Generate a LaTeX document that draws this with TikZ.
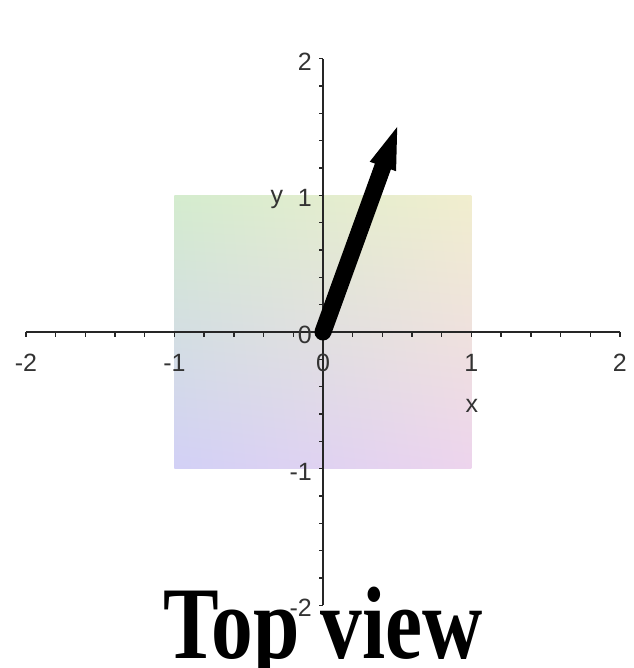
\documentclass[tikz,border=0pt]{standalone}
\usepackage{fontspec}
\setmainfont{Liberation Serif}
\setsansfont{Liberation Sans}
\usetikzlibrary{arrows.meta, shadings}

% corner colours of the shaded square
\definecolor{sqtl}{RGB}{212,236,206}
\definecolor{sqtr}{RGB}{241,238,206}
\definecolor{sqbl}{RGB}{210,208,246}
\definecolor{sqbr}{RGB}{237,212,237}

\begin{document}
\begin{tikzpicture}[
    x=148.5pt, y=136.7pt,
    axis/.style={line width=1.6pt, draw=black!85},
    tick/.style={line width=1.4pt, draw=black!85},
    num/.style={font=\sffamily\fontsize{25}{25}\selectfont, text=black!80, inner sep=0pt},
    vec/.style={line width=17pt, line cap=round, -{Triangle[length=42pt, width=28pt, line width=0pt]}},
    title/.style={font=\bfseries\fontsize{103}{110}\selectfont, inner sep=0pt}
]
\useasboundingbox (-2.175,-2.458) rectangle (2.088,2.429);

% --- Shaded square ---
\shade[upper left=sqtl, upper right=sqtr, lower left=sqbl, lower right=sqbr] (-1,-1) rectangle (1,1);

% --- Axes ---
\coordinate (O) at (0,0);
\coordinate (xmin) at (-2,0);
\coordinate (xmax) at (2,0);
\coordinate (ymin) at (0,-2);
\coordinate (ymax) at (0,2);
\draw[axis] (xmin) -- (xmax);
\draw[axis] (ymin) -- (ymax);
\foreach \i in {-10,...,10} {
  \draw[tick] (\i/5,0) -- ++(0,-5pt);
  \draw[tick] (0,\i/5) -- ++(-4pt,0);
}

% --- Tick labels ---
\foreach \v in {-2,-1,0,1,2} {
  \node[num] (xl\v) at (\v,-0.227) {\v};
  \node[num, anchor=east] (yl\v) at (-0.074,\v-0.02) {\v};
}
\node[num] (xlab) at (1.003,-0.54) {x};
\node[num] (ylab) at (-0.31,0.966) {y};

% --- Vector ---
\coordinate (tip) at (0.5,1.5);
\draw[vec] (O) -- (tip);

% --- Title ---
\node[title, anchor=base] (ttl) at (0,-2.39) {\scalebox{0.81}[1]{Top view}};

\end{tikzpicture}
\end{document}
